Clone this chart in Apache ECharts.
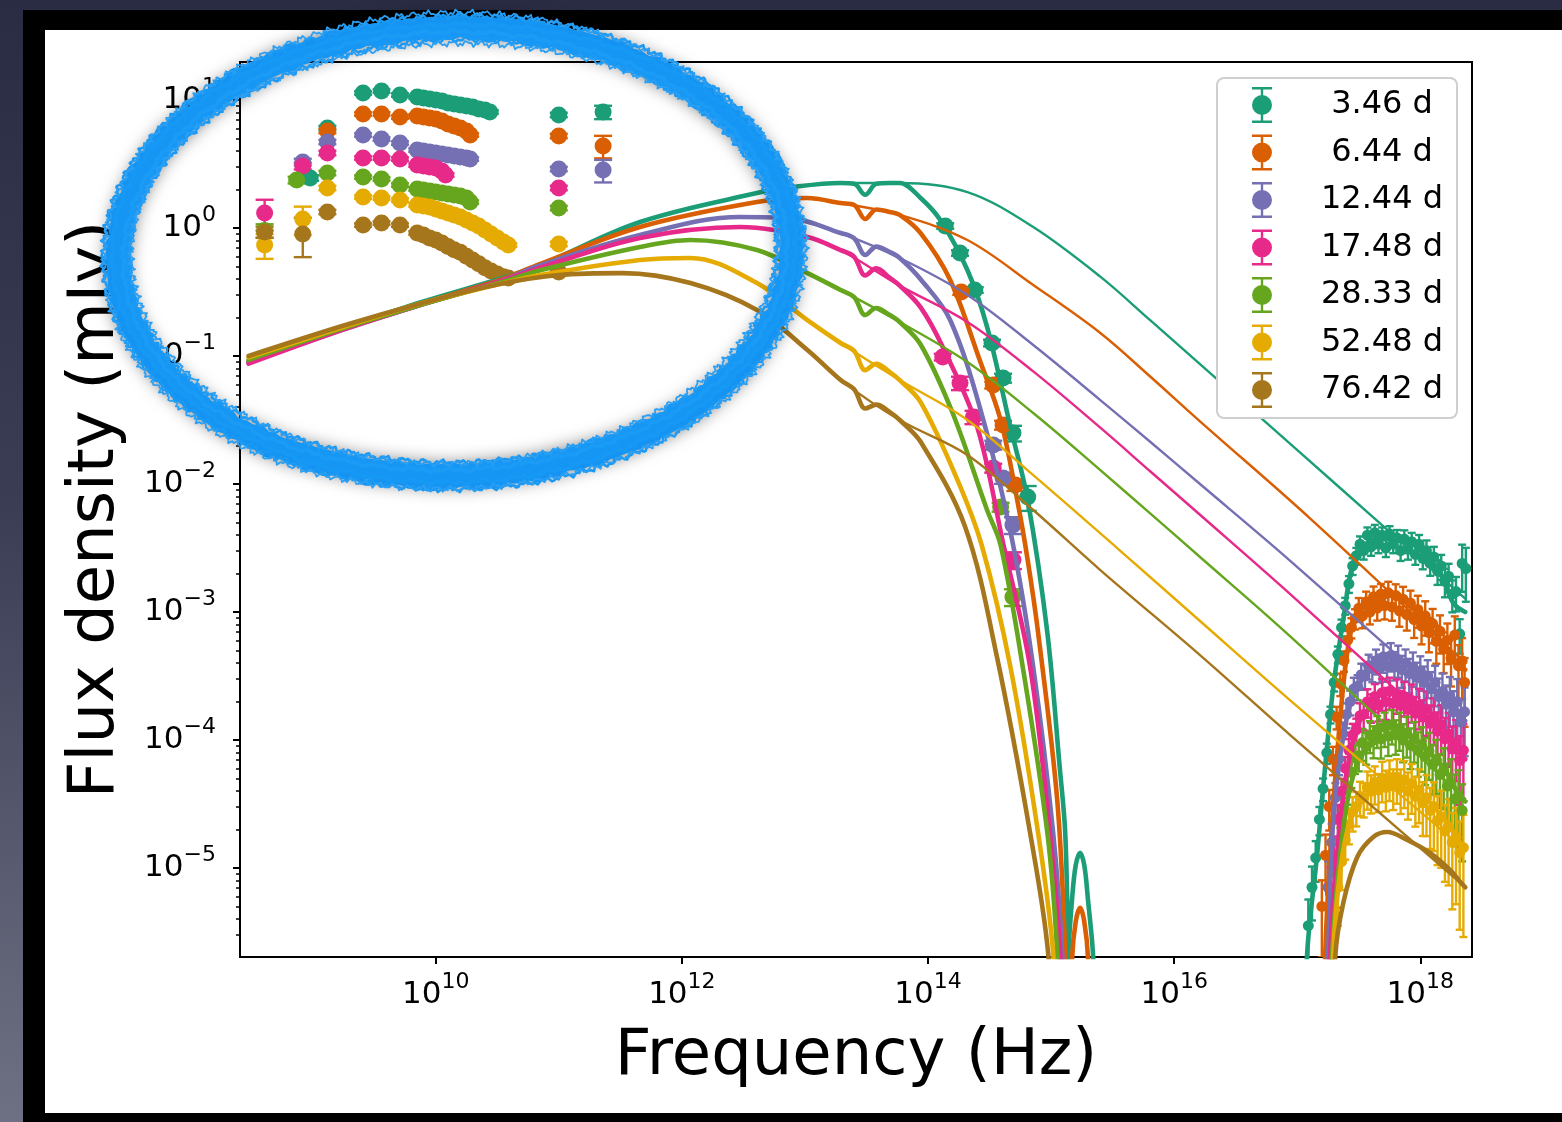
<!DOCTYPE html>
<html>
<head>
<meta charset="utf-8">
<script src="https://cdn.jsdelivr.net/npm/echarts@6/dist/echarts.min.js"></script>
<style>
  html, body { margin: 0; padding: 0; width: 1562px; height: 1122px; overflow: hidden;
    background: linear-gradient(180deg, #2a2c44 0%, #3b3d55 45%, #6e7083 100%); }
  #frame { position: absolute; left: 23px; top: 10px; width: 1539px; height: 1112px; background: #000; }
  #paper { position: absolute; left: 45px; top: 30px; width: 1517px; height: 1083px; background: #fff; }
  #chart { position: absolute; left: 0; top: 0; width: 1562px; height: 1122px; }
</style>
</head>
<body>
<div id="frame"></div>
<div id="paper"></div>
<div id="chart"></div>
<script>
// ---- epochs and colours -------------------------------------------------
const epochLabels = ['3.46 d', '6.44 d', '12.44 d', '17.48 d', '28.33 d', '52.48 d', '76.42 d'];
const palette = ['#1b9e77', '#d95f02', '#7570b3', '#e7298a', '#66a61e', '#e6ab02', '#a6761d'];

// ---- tick positions (log10 Hz, log10 mJy) --------------------------------
const freqTickExps = [10, 12, 14, 16, 18];
const fluxTickExps = [-5, -4, -3, -2, -1, 0, 1];

// ---- radio / mm photometry: [log10 nu (Hz), log10 F (mJy), relative error] ----
const radio_346 = [[8.98,0.391,0.05],[9.12,0.781,0.04],[9.41,1.055,0.03],[9.56,1.070,0.03],[9.71,1.039,0.03],[9.85,1.023,0.03],[9.90,1.016,0.03],[9.95,1.008,0.03],[10.00,1.000,0.03],[10.05,0.992,0.03],[10.10,0.977,0.03],[10.15,0.969,0.03],[10.20,0.961,0.03],[10.25,0.953,0.03],[10.30,0.945,0.03],[10.35,0.930,0.03],[10.40,0.922,0.03],[10.44,0.906,0.03],[11.00,0.883,0.04],[11.36,0.906,0.12]];
const radio_644 = [[9.12,0.758,0.04],[9.41,0.891,0.03],[9.56,0.891,0.03],[9.71,0.867,0.03],[9.85,0.875,0.03],[9.90,0.867,0.03],[9.95,0.859,0.03],[10.00,0.852,0.03],[10.05,0.836,0.03],[10.10,0.813,0.03],[10.15,0.797,0.03],[10.20,0.781,0.03],[10.25,0.758,0.03],[10.28,0.727,0.03],[11.00,0.719,0.04],[11.36,0.641,0.2]];
const radio_1244 = [[8.92,0.516,0.06],[9.12,0.672,0.04],[9.41,0.727,0.03],[9.56,0.695,0.03],[9.71,0.664,0.03],[9.85,0.609,0.03],[9.90,0.602,0.03],[9.95,0.594,0.03],[10.00,0.586,0.03],[10.05,0.578,0.03],[10.10,0.570,0.03],[10.15,0.563,0.03],[10.20,0.555,0.03],[10.25,0.547,0.03],[10.28,0.539,0.03],[11.00,0.461,0.04],[11.36,0.453,0.2]];
const radio_1748 = [[8.61,0.117,0.27],[8.92,0.484,0.06],[9.12,0.586,0.04],[9.41,0.547,0.03],[9.56,0.547,0.03],[9.71,0.539,0.03],[9.85,0.492,0.03],[9.90,0.484,0.03],[9.95,0.477,0.03],[10.00,0.469,0.03],[10.05,0.445,0.03],[10.08,0.414,0.03],[11.00,0.313,0.04]];
const radio_2833 = [[8.61,-0.020,0.12],[8.87,0.375,0.06],[9.12,0.430,0.04],[9.41,0.398,0.03],[9.56,0.383,0.03],[9.71,0.336,0.03],[9.85,0.305,0.03],[9.90,0.297,0.03],[9.95,0.289,0.03],[10.00,0.281,0.03],[10.05,0.273,0.03],[10.10,0.266,0.03],[10.15,0.258,0.03],[10.20,0.250,0.03],[10.25,0.234,0.03],[10.28,0.203,0.03],[11.00,0.156,0.04]];
const radio_5248 = [[8.61,-0.133,0.22],[8.92,0.070,0.25],[9.12,0.313,0.04],[9.41,0.242,0.03],[9.56,0.234,0.03],[9.71,0.219,0.03],[9.85,0.180,0.03],[9.90,0.172,0.03],[9.95,0.164,0.03],[10.00,0.148,0.03],[10.05,0.133,0.03],[10.10,0.117,0.03],[10.15,0.102,0.03],[10.20,0.086,0.03],[10.25,0.063,0.03],[10.30,0.039,0.03],[10.35,0.016,0.03],[10.40,-0.016,0.03],[10.45,-0.047,0.03],[10.50,-0.078,0.03],[10.55,-0.109,0.03],[10.59,-0.133,0.03],[11.00,-0.125,0.04]];
const radio_7642 = [[8.61,-0.031,0.1],[8.92,-0.047,0.34],[9.12,0.125,0.04],[9.41,0.023,0.03],[9.56,0.039,0.03],[9.71,0.023,0.03],[9.85,-0.039,0.03],[9.90,-0.055,0.03],[9.95,-0.078,0.03],[10.00,-0.094,0.03],[10.05,-0.117,0.03],[10.10,-0.145,0.03],[10.15,-0.170,0.03],[10.20,-0.190,0.03],[10.25,-0.220,0.03],[10.30,-0.250,0.03],[10.35,-0.280,0.03],[10.40,-0.310,0.03],[10.45,-0.335,0.03],[10.50,-0.360,0.03],[10.55,-0.380,0.03],[10.59,-0.390,0.03],[11.00,-0.344,0.04]];

// ---- near-IR / optical photometry ---------------------------------------
const optical_346 = [[14.14,0.016,0.05],[14.26,-0.195,0.05],[14.38,-0.484,0.05],[14.52,-0.898,0.06],[14.61,-1.172,0.08],[14.69,-1.602,0.14],[14.81,-2.102,0.22]];
const optical_644 = [[14.27,-0.500,0.05],[14.53,-1.227,0.06],[14.61,-1.539,0.08],[14.71,-2.008,0.1]];
const optical_1244 = [[14.53,-1.695,0.08],[14.61,-1.953,0.1],[14.69,-2.320,0.15]];
const optical_1748 = [[14.12,-1.008,0.06],[14.26,-1.211,0.12],[14.37,-1.477,0.12],[14.53,-1.875,0.08],[14.69,-2.594,0.15]];
const optical_2833 = [[14.59,-2.180,0.08],[14.69,-2.883,0.15]];
const optical_5248 = [];
const optical_7642 = [];

// ---- X-ray spectra -------------------------------------------------------
const xray_346 = [[17.09,-5.45,0.6],[17.12,-5.15,0.45],[17.15,-4.92,0.35],[17.18,-4.62,0.25],[17.21,-4.38,0.2],[17.24,-4.10,0.18],[17.27,-3.80,0.15],[17.30,-3.55,0.15],[17.33,-3.33,0.15],[17.36,-3.12,0.15],[17.39,-2.95,0.15],[17.42,-2.78,0.15],[17.45,-2.64,0.15],[17.48,-2.56,0.15],[17.51,-2.47,0.15],[17.54,-2.52,0.15],[17.57,-2.40,0.15],[17.60,-2.49,0.15],[17.63,-2.38,0.15],[17.66,-2.47,0.15],[17.69,-2.40,0.15],[17.72,-2.50,0.15],[17.75,-2.39,0.15],[17.78,-2.47,0.15],[17.81,-2.42,0.15],[17.84,-2.52,0.17],[17.87,-2.43,0.17],[17.90,-2.51,0.17],[17.93,-2.45,0.17],[17.96,-2.55,0.17],[17.99,-2.47,0.18],[18.02,-2.58,0.18],[18.05,-2.52,0.2],[18.08,-2.62,0.2],[18.11,-2.57,0.2],[18.14,-2.68,0.22],[18.17,-2.64,0.22],[18.20,-2.76,0.25],[18.23,-2.72,0.25],[18.26,-2.86,0.28],[18.29,-2.84,0.3],[18.32,-3.17,0.3],[18.34,-2.62,0.4],[18.37,-2.66,0.45]];
const xray_644 = [[17.20,-5.30,0.6],[17.23,-4.90,0.45],[17.26,-4.52,0.35],[17.29,-4.15,0.25],[17.32,-3.82,0.2],[17.35,-3.56,0.2],[17.38,-3.38,0.18],[17.41,-3.22,0.18],[17.44,-3.12,0.18],[17.47,-3.05,0.18],[17.50,-2.97,0.2],[17.53,-3.03,0.2],[17.56,-2.92,0.2],[17.59,-3.00,0.2],[17.62,-2.88,0.2],[17.65,-2.97,0.2],[17.68,-2.86,0.2],[17.71,-2.95,0.22],[17.74,-2.85,0.22],[17.77,-2.96,0.22],[17.80,-2.87,0.22],[17.83,-2.99,0.25],[17.86,-2.90,0.25],[17.89,-3.02,0.25],[17.92,-2.93,0.25],[17.95,-3.06,0.28],[17.98,-2.98,0.28],[18.01,-3.11,0.28],[18.04,-3.03,0.3],[18.07,-3.16,0.3],[18.10,-3.09,0.3],[18.13,-3.23,0.33],[18.16,-3.15,0.33],[18.19,-3.29,0.35],[18.22,-3.22,0.35],[18.25,-3.36,0.4],[18.28,-3.18,0.4],[18.31,-3.42,0.45],[18.34,-3.38,0.5],[18.36,-3.55,0.55]];
const xray_1244 = [[17.25,-5.15,0.6],[17.28,-4.80,0.4],[17.31,-4.45,0.3],[17.34,-4.15,0.25],[17.37,-3.95,0.22],[17.40,-3.80,0.22],[17.43,-3.70,0.22],[17.46,-3.60,0.22],[17.49,-3.58,0.22],[17.52,-3.49,0.22],[17.55,-3.50,0.22],[17.58,-3.42,0.22],[17.61,-3.44,0.22],[17.64,-3.38,0.22],[17.67,-3.43,0.25],[17.70,-3.35,0.25],[17.73,-3.42,0.25],[17.76,-3.34,0.25],[17.79,-3.41,0.25],[17.82,-3.37,0.28],[17.85,-3.45,0.28],[17.88,-3.40,0.28],[17.91,-3.48,0.3],[17.94,-3.43,0.3],[17.97,-3.51,0.3],[18.00,-3.46,0.3],[18.03,-3.55,0.33],[18.06,-3.50,0.33],[18.09,-3.60,0.35],[18.12,-3.55,0.35],[18.15,-3.66,0.38],[18.18,-3.62,0.38],[18.21,-3.72,0.4],[18.24,-3.66,0.42],[18.27,-3.78,0.45],[18.30,-3.70,0.5],[18.33,-3.86,0.5],[18.36,-3.78,0.55]];
const xray_1748 = [[17.27,-5.20,0.6],[17.30,-4.90,0.4],[17.33,-4.62,0.3],[17.36,-4.40,0.25],[17.39,-4.22,0.22],[17.42,-4.08,0.22],[17.45,-3.96,0.22],[17.48,-3.92,0.22],[17.51,-3.81,0.25],[17.54,-3.80,0.25],[17.57,-3.70,0.25],[17.60,-3.74,0.25],[17.63,-3.66,0.25],[17.66,-3.73,0.25],[17.69,-3.63,0.28],[17.72,-3.70,0.28],[17.75,-3.62,0.28],[17.78,-3.71,0.28],[17.81,-3.64,0.3],[17.84,-3.73,0.3],[17.87,-3.66,0.3],[17.90,-3.76,0.3],[17.93,-3.69,0.33],[17.96,-3.79,0.33],[17.99,-3.73,0.35],[18.02,-3.82,0.35],[18.05,-3.76,0.38],[18.08,-3.87,0.38],[18.11,-3.82,0.4],[18.14,-3.93,0.4],[18.17,-3.88,0.42],[18.20,-3.99,0.45],[18.23,-3.95,0.45],[18.26,-4.07,0.5],[18.29,-4.02,0.5],[18.32,-4.16,0.55],[18.35,-4.08,0.6]];
const xray_2833 = [[17.29,-5.35,0.6],[17.32,-5.05,0.45],[17.35,-4.80,0.3],[17.38,-4.55,0.25],[17.41,-4.38,0.25],[17.44,-4.25,0.25],[17.47,-4.14,0.25],[17.50,-4.12,0.25],[17.53,-4.02,0.28],[17.56,-4.05,0.28],[17.59,-3.96,0.28],[17.62,-4.00,0.28],[17.65,-3.92,0.28],[17.68,-3.99,0.3],[17.71,-3.90,0.3],[17.74,-3.97,0.3],[17.77,-3.88,0.3],[17.80,-3.96,0.3],[17.83,-3.91,0.33],[17.86,-4.00,0.33],[17.89,-3.95,0.35],[17.92,-4.04,0.35],[17.95,-3.99,0.35],[17.98,-4.08,0.38],[18.01,-4.04,0.38],[18.04,-4.13,0.4],[18.07,-4.09,0.4],[18.10,-4.19,0.42],[18.13,-4.16,0.45],[18.16,-4.27,0.45],[18.19,-4.24,0.5],[18.22,-4.36,0.5],[18.25,-4.34,0.55],[18.28,-4.46,0.55],[18.31,-4.44,0.6],[18.34,-4.55,0.6]];
const xray_5248 = [[17.30,-5.45,0.7],[17.33,-5.15,0.5],[17.36,-4.95,0.4],[17.39,-4.78,0.3],[17.42,-4.66,0.3],[17.45,-4.56,0.3],[17.48,-4.52,0.3],[17.51,-4.44,0.3],[17.54,-4.45,0.3],[17.57,-4.37,0.33],[17.60,-4.40,0.33],[17.63,-4.33,0.33],[17.66,-4.39,0.33],[17.69,-4.30,0.35],[17.72,-4.37,0.35],[17.75,-4.29,0.35],[17.78,-4.36,0.35],[17.81,-4.29,0.38],[17.84,-4.37,0.38],[17.87,-4.31,0.4],[17.90,-4.40,0.4],[17.93,-4.34,0.42],[17.96,-4.44,0.42],[17.99,-4.39,0.45],[18.02,-4.49,0.45],[18.05,-4.45,0.5],[18.08,-4.55,0.5],[18.11,-4.52,0.55],[18.14,-4.63,0.55],[18.17,-4.60,0.6],[18.20,-4.71,0.6],[18.23,-4.68,0.65],[18.26,-4.80,0.7],[18.29,-4.76,0.7],[18.32,-4.88,0.75],[18.35,-4.84,0.8]];
const xray_7642 = [];

// ---- absorbed afterglow model (null = gap between segments) -------------
const model_346 = [[8.48,-1.04],[9.26,-0.78],[9.88,-0.58],[10.51,-0.40],[10.85,-0.29],[11.66,0.047],[12.61,0.273],[12.90,0.320],[13.29,0.352],[13.40,0.345],[13.49,0.26],[13.58,0.345],[13.69,0.352],[13.77,0.352],[13.94,0.235],[14.10,0.063],[14.32,-0.328],[14.48,-0.773],[14.67,-1.555],[14.81,-2.125],[14.97,-3.164],[15.07,-4.211],[15.115,-4.727],[15.139,-5.664],[15.16,-6.6],null,
  [15.12,-6.6],[15.139,-5.70],[15.17,-5.25],[15.20,-4.98],[15.236,-4.88],[15.27,-4.98],[15.30,-5.25],[15.342,-5.70],[15.36,-6.6],null,
  [17.06,-6.6],[17.081,-5.664],[17.163,-4.883],[17.211,-4.367],[17.293,-3.586],[17.374,-3.063],[17.455,-2.617],[17.569,-2.461],[17.756,-2.422],[17.975,-2.492],[18.162,-2.695],[18.268,-2.93],[18.365,-3.0]];
const model_644 = [[8.48,-1.04],[9.26,-0.78],[9.88,-0.59],[10.51,-0.41],[10.85,-0.28],[11.66,0.008],[12.61,0.203],[13.02,0.234],[13.29,0.195],[13.40,0.18],[13.49,0.07],[13.58,0.145],[13.69,0.125],[13.77,0.102],[13.94,-0.04],[14.18,-0.406],[14.42,-1.031],[14.59,-1.5],[14.725,-2.125],[14.81,-2.594],[14.895,-3.164],[15.05,-4.469],[15.115,-5.664],[15.14,-6.6],null,
  [15.15,-6.6],[15.171,-5.70],[15.20,-5.42],[15.236,-5.31],[15.27,-5.42],[15.30,-5.70],[15.32,-6.6],null,
  [17.21,-6.6],[17.228,-5.664],[17.268,-4.883],[17.325,-4.102],[17.406,-3.32],[17.488,-3.008],[17.65,-2.93],[17.78,-2.852],[17.975,-3.008],[18.162,-3.219],[18.325,-3.43],[18.365,-3.45]];
const model_1244 = [[8.48,-1.05],[9.26,-0.79],[9.88,-0.60],[10.51,-0.42],[10.85,-0.29],[11.66,-0.055],[12.47,0.086],[12.88,0.078],[13.29,-0.039],[13.40,-0.08],[13.49,-0.21],[13.58,-0.145],[13.69,-0.188],[13.77,-0.234],[13.94,-0.40],[14.18,-0.719],[14.45,-1.5],[14.68,-2.42],[14.855,-3.43],[15.017,-4.727],[15.09,-5.664],[15.12,-6.6],null,
  [17.23,-6.6],[17.252,-5.664],[17.293,-4.625],[17.374,-3.977],[17.488,-3.586],[17.674,-3.43],[17.813,-3.453],[18.024,-3.555],[18.219,-3.688],[18.349,-3.844],[18.365,-3.85]];
const model_1748 = [[8.48,-1.06],[9.26,-0.79],[9.88,-0.60],[10.51,-0.42],[10.85,-0.31],[11.66,-0.078],[12.47,0.008],[13.02,-0.070],[13.29,-0.172],[13.40,-0.225],[13.49,-0.37],[13.58,-0.315],[13.69,-0.39],[13.77,-0.45],[13.94,-0.62],[14.12,-0.93],[14.40,-1.555],[14.61,-2.461],[14.83,-3.43],[14.99,-4.727],[15.074,-5.664],[15.10,-6.6],null,
  [17.25,-6.6],[17.268,-5.664],[17.325,-4.883],[17.406,-4.234],[17.512,-3.844],[17.674,-3.703],[17.837,-3.688],[18.024,-3.789],[18.219,-3.977],[18.325,-4.12],[18.365,-4.15]];
const model_2833 = [[8.48,-1.03],[9.26,-0.78],[9.88,-0.60],[10.51,-0.43],[10.85,-0.33],[11.66,-0.148],[12.07,-0.094],[12.61,-0.172],[13.02,-0.352],[13.29,-0.484],[13.40,-0.54],[13.49,-0.68],[13.58,-0.625],[13.69,-0.68],[13.77,-0.734],[13.94,-0.91],[14.20,-1.445],[14.48,-2.203],[14.59,-2.477],[14.77,-3.43],[14.97,-4.727],[15.05,-5.664],[15.08,-6.6],null,
  [17.26,-6.6],[17.284,-5.664],[17.35,-4.883],[17.431,-4.367],[17.536,-4.102],[17.699,-3.977],[17.861,-3.945],[18.056,-4.078],[18.219,-4.258],[18.325,-4.45],[18.365,-4.48]];
const model_5248 = [[8.48,-1.01],[9.26,-0.77],[9.88,-0.59],[10.51,-0.44],[10.85,-0.367],[11.66,-0.25],[12.07,-0.234],[12.61,-0.43],[13.02,-0.719],[13.29,-0.898],[13.40,-0.96],[13.49,-1.11],[13.58,-1.06],[13.69,-1.125],[13.77,-1.188],[13.94,-1.36],[14.24,-1.97],[14.44,-2.49],[14.67,-3.43],[14.895,-4.727],[15.017,-5.664],[15.05,-6.6],null,
  [17.27,-6.6],[17.293,-5.664],[17.35,-5.016],[17.431,-4.625],[17.536,-4.469],[17.699,-4.336],[17.894,-4.336],[18.081,-4.492],[18.243,-4.68],[18.325,-4.805],[18.365,-4.85]];
const model_7642 = [[8.48,-1.0],[9.26,-0.76],[9.88,-0.59],[10.51,-0.44],[11.0,-0.367],[11.52,-0.352],[12.07,-0.43],[12.61,-0.641],[13.02,-0.953],[13.29,-1.188],[13.40,-1.26],[13.49,-1.41],[13.58,-1.38],[13.69,-1.438],[13.77,-1.5],[13.94,-1.67],[14.30,-2.33],[14.56,-3.35],[14.83,-4.727],[14.976,-5.664],[15.01,-6.6],null,
  [17.29,-6.6],[17.309,-5.695],[17.374,-5.273],[17.488,-4.914],[17.618,-4.758],[17.731,-4.719],[17.894,-4.781],[18.081,-4.883],[18.243,-5.016],[18.325,-5.109],[18.365,-5.15]];

// ---- unabsorbed synchrotron model ----------------------------------------
const intrinsic_346 = [[13.02,0.33],[13.29,0.352],[13.77,0.352],[14.32,0.281],[14.855,0.008],[15.40,-0.38],[15.805,-0.72],[16.21,-1.063],[17.024,-1.755],[17.618,-2.26],[18.365,-2.895]];
const intrinsic_644 = [[13.02,0.234],[13.29,0.195],[13.77,0.102],[14.32,-0.094],[14.855,-0.445],[15.40,-0.82],[15.805,-1.16],[16.21,-1.51],[17.106,-2.27],[18.365,-3.40]];
const intrinsic_1244 = [[12.88,0.078],[13.29,-0.039],[13.77,-0.234],[14.32,-0.523],[14.855,-0.914],[15.40,-1.344],[15.805,-1.67],[16.21,-2.0],[16.943,-2.6],[18.365,-3.81]];
const intrinsic_1748 = [[13.02,-0.070],[13.29,-0.172],[13.77,-0.45],[14.32,-0.734],[14.855,-1.12],[15.40,-1.56],[15.805,-1.90],[16.21,-2.24],[16.943,-2.86],[18.365,-4.10]];
const intrinsic_2833 = [[12.61,-0.172],[13.02,-0.352],[13.29,-0.484],[13.77,-0.734],[14.32,-1.047],[14.855,-1.445],[15.40,-1.891],[15.805,-2.23],[16.21,-2.57],[16.943,-3.19],[18.365,-4.46]];
const intrinsic_5248 = [[12.61,-0.43],[13.02,-0.719],[13.29,-0.898],[13.77,-1.188],[14.32,-1.5],[14.855,-1.93],[15.537,-2.50],[16.21,-3.07],[16.943,-3.69],[18.365,-4.86]];
const intrinsic_7642 = [[12.61,-0.641],[13.02,-0.953],[13.29,-1.188],[13.77,-1.5],[14.32,-1.773],[14.855,-2.203],[15.40,-2.672],[16.21,-3.336],[16.943,-3.961],[18.365,-5.148]];

const radioSets = [radio_346, radio_644, radio_1244, radio_1748, radio_2833, radio_5248, radio_7642];
const opticalSets = [optical_346, optical_644, optical_1244, optical_1748, optical_2833, optical_5248, optical_7642];
const xraySets = [xray_346, xray_644, xray_1244, xray_1748, xray_2833, xray_5248, xray_7642];
const modelSets = [model_346, model_644, model_1244, model_1748, model_2833, model_5248, model_7642];
const intrinsicSets = [intrinsic_346, intrinsic_644, intrinsic_1244, intrinsic_1748, intrinsic_2833, intrinsic_5248, intrinsic_7642];

// ---- helpers -------------------------------------------------------------
const FONT = 'DejaVu Sans';

function errRange(p) {
  const f = p[2];
  return [p[0], p[1] + Math.log10(Math.max(1 - f, 0.05)), p[1] + Math.log10(1 + f)];
}

function errorBarSeries(name, color, pts, capHalf) {
  return {
    type: 'custom', name: name, silent: true, clip: true,
    itemStyle: { color: color },
    encode: { x: 0, y: [1, 2] },
    data: pts.map(errRange),
    renderItem: function (params, api) {
      const a = api.coord([api.value(0), api.value(1)]);
      const b = api.coord([api.value(0), api.value(2)]);
      const st = { stroke: color, lineWidth: 2.4, fill: null };
      return {
        type: 'group', children: [
          { type: 'line', shape: { x1: a[0], y1: a[1], x2: b[0], y2: b[1] }, style: st },
          { type: 'line', shape: { x1: a[0] - capHalf, y1: a[1], x2: a[0] + capHalf, y2: a[1] }, style: st },
          { type: 'line', shape: { x1: b[0] - capHalf, y1: b[1], x2: b[0] + capHalf, y2: b[1] }, style: st }
        ]
      };
    }
  };
}

function markerSeries(name, color, pts, size) {
  return {
    type: 'scatter', name: name, silent: true, symbol: 'circle', symbolSize: size,
    itemStyle: { color: color, opacity: 1 },
    data: pts.map(p => [p[0], p[1]])
  };
}

function curveSeries(name, color, pts, width) {
  return {
    type: 'line', name: name, silent: true, showSymbol: false, symbol: 'none',
    smooth: 0.35, connectNulls: false, clip: true,
    itemStyle: { color: color },
    lineStyle: { color: color, width: width, cap: 'round', join: 'round' },
    data: pts.map(p => (p ? [p[0], p[1]] : ['-', '-']))
  };
}

const series = [];
epochLabels.forEach((name, i) => {
  const c = palette[i];
  const lowPts = radioSets[i].concat(opticalSets[i]);
  series.push(errorBarSeries(name, c, lowPts, 9));
  series.push(markerSeries(name, c, lowPts, 17));
  if (xraySets[i].length) {
    series.push(errorBarSeries(name, c, xraySets[i], 4));
    series.push(markerSeries(name, c, xraySets[i], 11));
  }
  series.push(curveSeries(name, c, modelSets[i], 4.6));
  series.push(curveSeries(name, c, intrinsicSets[i], 2.4));
});

// minor tick positions for the flux axis (2..9 x 10^n)
const minorFlux = [];
for (let n = -6; n <= 1; n++) {
  for (let k = 2; k <= 9; k++) {
    const v = n + Math.log10(k);
    if (v > -5.695 && v < 1.297) minorFlux.push(v);
  }
}

const powLabel = v => '{b|10}{s|' + String(Math.round(v)).replace('-', '\u2212') + '}';
const tickRich = {
  b: { fontFamily: FONT, fontSize: 31, lineHeight: 48, color: '#000' },
  s: { fontFamily: FONT, fontSize: 22, lineHeight: 22, color: '#000', verticalAlign: 'top' }
};

// legend glyph: marker with an error bar
const ebIcon = 'path://M1 0H21V2.5H12.2V33.5H21V36H1V33.5H9.8V2.5H1Z M1 18A10 10 0 1 1 21 18A10 10 0 1 1 1 18Z';

// hand-drawn highlight loop (annotation)
function loopPoints(cx, cy, rx, ry, rot, dr, amp, k, ph) {
  const pts = [];
  const c = Math.cos(rot), s = Math.sin(rot);
  const n = 900;
  for (let i = 0; i <= n + 8; i++) {
    const t = (i / n) * Math.PI * 2;
    const w = dr + 1.5 * Math.sin(3 * t + ph) + 2 * Math.sin(2 * t + 0.5) +
      amp * (Math.sin(k * t + ph) * 0.55 + Math.sin(2.7 * k * t + 1.9 * ph) * 0.45);
    const ex = (rx + w) * Math.cos(t), ey = (ry + w) * Math.sin(t);
    pts.push([cx + ex * c - ey * s, cy + ex * s + ey * c]);
  }
  return pts;
}
const LOOP = { cx: 454, cy: 252, rx: 336, ry: 225, rot: -0.045 };
const loopStrokes = [
  { dr: 0, w: 21, amp: 0.8, k: 9, ph: 0.0, color: '#1596f4', shadow: true },
  { dr: -9, w: 6, amp: 2.4, k: 41, ph: 1.1, color: '#1797f5' },
  { dr: 9, w: 6, amp: 2.6, k: 37, ph: 2.3, color: '#1493f2' },
  { dr: -5, w: 4, amp: 2.0, k: 57, ph: 0.7, color: '#1a9bf6' },
  { dr: 5, w: 4, amp: 2.0, k: 63, ph: 3.1, color: '#1698f5' },
  { dr: 12.5, w: 2.5, amp: 3.2, k: 113, ph: 4.2, color: '#1a99f4' },
  { dr: -12.5, w: 2.5, amp: 3.2, k: 107, ph: 5.3, color: '#1a99f4' },
  { dr: 14, w: 1.8, amp: 3.6, k: 151, ph: 0.4, color: '#2a9ff3' },
  { dr: -14, w: 1.8, amp: 3.6, k: 139, ph: 2.9, color: '#2a9ff3' }
];
const graphics = loopStrokes.map(g => ({
  type: 'polyline', silent: true, z: 100,
  shape: { points: loopPoints(LOOP.cx, LOOP.cy, LOOP.rx, LOOP.ry, LOOP.rot, g.dr, g.amp, g.k, g.ph) },
  style: Object.assign({ stroke: g.color, lineWidth: g.w, fill: null, lineJoin: 'round', lineCap: 'round' },
    g.shadow ? { shadowBlur: 18, shadowColor: 'rgba(0,0,0,0.6)' } : {})
}));

const chart = echarts.init(document.getElementById('chart'), null, { renderer: 'canvas' });
chart.setOption({
  animation: false,
  backgroundColor: 'transparent',
  grid: { left: 240, top: 62, width: 1232, height: 895, show: true, borderColor: '#000', borderWidth: 2,
          backgroundColor: 'transparent', containLabel: false, outerBoundsMode: 'none' },
  xAxis: {
    type: 'value', min: 8.41, max: 18.42, position: 'bottom',
    axisLine: { show: true, onZero: false, lineStyle: { color: '#000', width: 2 } },
    axisTick: { show: true, customValues: freqTickExps, length: 7, inside: false, lineStyle: { color: '#000', width: 2 } },
    axisLabel: { show: true, customValues: freqTickExps, formatter: powLabel, margin: 14, rich: tickRich },
    splitLine: { show: false },
    name: 'Frequency (Hz)', nameLocation: 'middle', nameGap: 68,
    nameTextStyle: { fontFamily: FONT, fontSize: 64, color: '#000' }
  },
  yAxis: [{
    type: 'value', min: -5.695, max: 1.297, position: 'left',
    axisLine: { show: true, onZero: false, lineStyle: { color: '#000', width: 2 } },
    axisTick: { show: true, customValues: fluxTickExps, length: 7, lineStyle: { color: '#000', width: 2 } },
    axisLabel: { show: true, customValues: fluxTickExps, formatter: powLabel, margin: 24, rich: tickRich },
    splitLine: { show: false },
    name: 'Flux density (mJy)', nameLocation: 'middle', nameGap: 112,
    nameTextStyle: { fontFamily: FONT, fontSize: 64, color: '#000' }
  }, {
    type: 'value', min: -5.695, max: 1.297, position: 'left', offset: 0,
    axisLine: { show: false },
    axisTick: { show: true, customValues: minorFlux, length: 4, lineStyle: { color: '#000', width: 1.5 } },
    axisLabel: { show: false },
    splitLine: { show: false }
  }],
  legend: {
    data: epochLabels.map((name, i) => ({ name: name, icon: ebIcon, itemStyle: { color: palette[i] } })),
    orient: 'vertical', left: 1217, top: 78,
    itemWidth: 20, itemHeight: 36, itemGap: 11.5,
    padding: [9, 0, 10, 35],
    backgroundColor: '#ffffff', borderColor: '#cfcfcf', borderWidth: 2, borderRadius: 7,
    selectedMode: false,
    formatter: name => '{t|' + name + '}',
    textStyle: {
      fontFamily: FONT, fontSize: 32, color: '#000',
      rich: { t: { fontFamily: FONT, fontSize: 32, lineHeight: 36, width: 150, align: 'center', padding: [0, 0, 0, 30], color: '#000' } }
    }
  },
  graphic: graphics,
  series: series
});
</script>
</body>
</html>
